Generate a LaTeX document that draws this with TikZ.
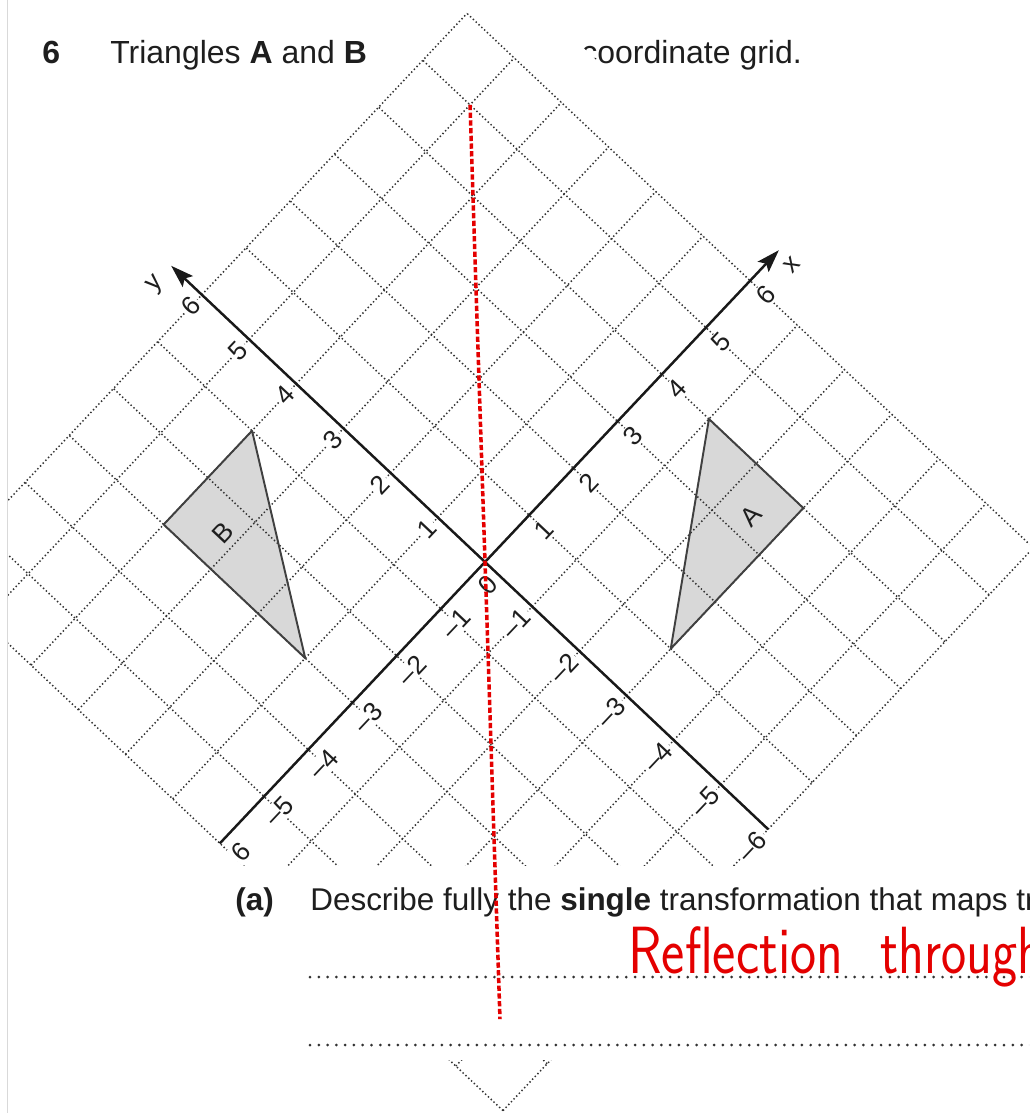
\documentclass[tikz,border=0pt]{standalone}
\usepackage{fontspec}
\setmainfont{Liberation Sans}
\usetikzlibrary{arrows.meta}
\definecolor{inkred}{RGB}{228,0,0}
\definecolor{gridgrey}{RGB}{50,50,50}
\definecolor{shapegrey}{RGB}{216,216,216}
\definecolor{textgrey}{RGB}{30,30,30}
\newcommand{\qfont}{\fontsize{18.2}{22}\selectfont}

\tikzset{
  gridline/.style={gridgrey, line width=0.85pt, dash pattern=on 0.8pt off 1.4pt},
  axisline/.style={black!90, line width=1.4pt},
  shapeline/.style={black!75, line width=1.1pt, line join=round},
  ticklabel/.style={font=\fontsize{15}{15}\selectfont, rotate=46.7, fill=white, inner sep=1pt},
  answerline/.style={gridgrey, line width=1.7pt, line cap=round, dash pattern=on 0pt off 5pt},
  mirrorline/.style={inkred, line width=2pt, dash pattern=on 3pt off 1.4pt},
  handwriting/.style={text=inkred, font=\sffamily\fontsize{38}{40}\selectfont, inner sep=0pt},
}

\begin{document}
\begin{tikzpicture}[x=0.02cm, y=-0.02cm, every node/.style={text=textgrey}, >=Stealth]
    \useasboundingbox (0,0) rectangle (1029,1113);
    \clip (0,0) rectangle (1029,1113);
    % question heading
    \node[anchor=base west, inner sep=0pt, font=\qfont\bfseries] (qnum) at (42,63) {6};
    \node[anchor=base west, inner sep=0pt, font=\qfont] (qhead) at (110,63) {Triangles \textbf{A} and \textbf{B}};
    \node[anchor=base west, inner sep=0pt, font=\qfont] (qtail) at (581,63) {coordinate grid.};
    % rotated coordinate grid
    \begin{scope}[shift={(485,562)}, x={(0.884cm,0.938cm)}, y={(-0.944cm,0.891cm)}]
      \fill[white] (-6.85,-6.85) -- (6.85,-6.85) -- (6.85,6.55) -- (-6.85,6.55) -- cycle;
      \fill[shapegrey] (4,-1) -- (4,-3) -- (1,-3) -- cycle;
      \fill[shapegrey] (-1,4) -- (-3,4) -- (-3,1) -- cycle;
      \foreach \k in {-6,...,6} {
        \draw[gridline] (\k,-6) -- (\k,6);
        \draw[gridline] (-6,\k) -- (6,\k);
      }
      \draw[shapeline] (4,-1) -- (4,-3) -- (1,-3) -- cycle;
      \draw[shapeline] (-1,4) -- (-3,4) -- (-3,1) -- cycle;
      \node[font=\fontsize{15}{15}\selectfont, rotate=46.7] (labA) at (3.35,-2.5) {A};
      \node[font=\fontsize{15}{15}\selectfont, rotate=46.7] (labB) at (-2.47,3.25) {B};
      % axes
      \coordinate (xneg) at (-6,0);
      \coordinate (xpos) at (6.65,0);
      \coordinate (yneg) at (0,-6);
      \coordinate (ypos) at (0,6.65);
      \draw[axisline, -{Stealth[length=13pt, width=8.5pt, inset=2.5pt]}] (xneg) -- (xpos);
      \draw[axisline, -{Stealth[length=13pt, width=8.5pt, inset=2.5pt]}] (yneg) -- (ypos);
      \node[font=\fontsize{15}{15}\selectfont, rotate=46.7] (xname) at (6.62,-0.3) {x};
      \node[font=\fontsize{15}{15}\selectfont, rotate=46.7] (yname) at (-0.38,6.62) {y};
      \foreach \k in {1,...,6} {
        \node[ticklabel, anchor=north] (xlab\k) at (\k,-0.15) {\k};
        \node[ticklabel, anchor=east] (ylab\k) at (-0.1,\k) {\k};
        \node[ticklabel, anchor=east] (ylabm\k) at (-0.1,-\k) {–\k};
      }
      \foreach \k in {1,...,5} {
        \node[ticklabel, anchor=north] (xlabm\k) at (-\k,-0.15) {–\k};
      }
      \node[ticklabel, anchor=north] (xlabm6) at (-5.88,-0.15) {6};
      \node[ticklabel, anchor=north east] (olab) at (-0.08,-0.1) {0};
      % mirror line ends
      \coordinate (mtop) at (5,5);
      \coordinate (mbot) at (-5,-5);
    \end{scope}
    % part (a)
    \fill[white] (0,866) rectangle (1029,1060);
    \node[anchor=base west, inner sep=0pt, font=\fontsize{17.9}{22}\selectfont\bfseries] (parta) at (235,910) {(a)};
    \node[anchor=base west, inner sep=0pt, font=\fontsize{17.9}{22}\selectfont] (partq) at (310,910) {Describe fully the \textbf{single} transformation that maps tr};
    \coordinate (ansAs) at (310,977);
    \coordinate (ansAe) at (1035,977);
    \coordinate (ansBs) at (310,1045);
    \coordinate (ansBe) at (1035,1045);
    \draw[answerline] (ansAs) -- (ansAe);
    \draw[answerline] (ansBs) -- (ansBe);
    % page edge
    \fill[white] (0,0) rectangle (7,1113);
    \draw[black!15, line width=0.6pt] (7.5,0) -- (7.5,1113);
    % red marking
    \draw[mirrorline] (mtop) -- (mbot);
    \node[handwriting, anchor=base west] (hwA) at (628,973) {\scalebox{0.83}[1]{Reflection}};
    \node[handwriting, anchor=base west] (hwB) at (880,973) {\scalebox{0.8}[1]{through}};
\end{tikzpicture}
\end{document}
